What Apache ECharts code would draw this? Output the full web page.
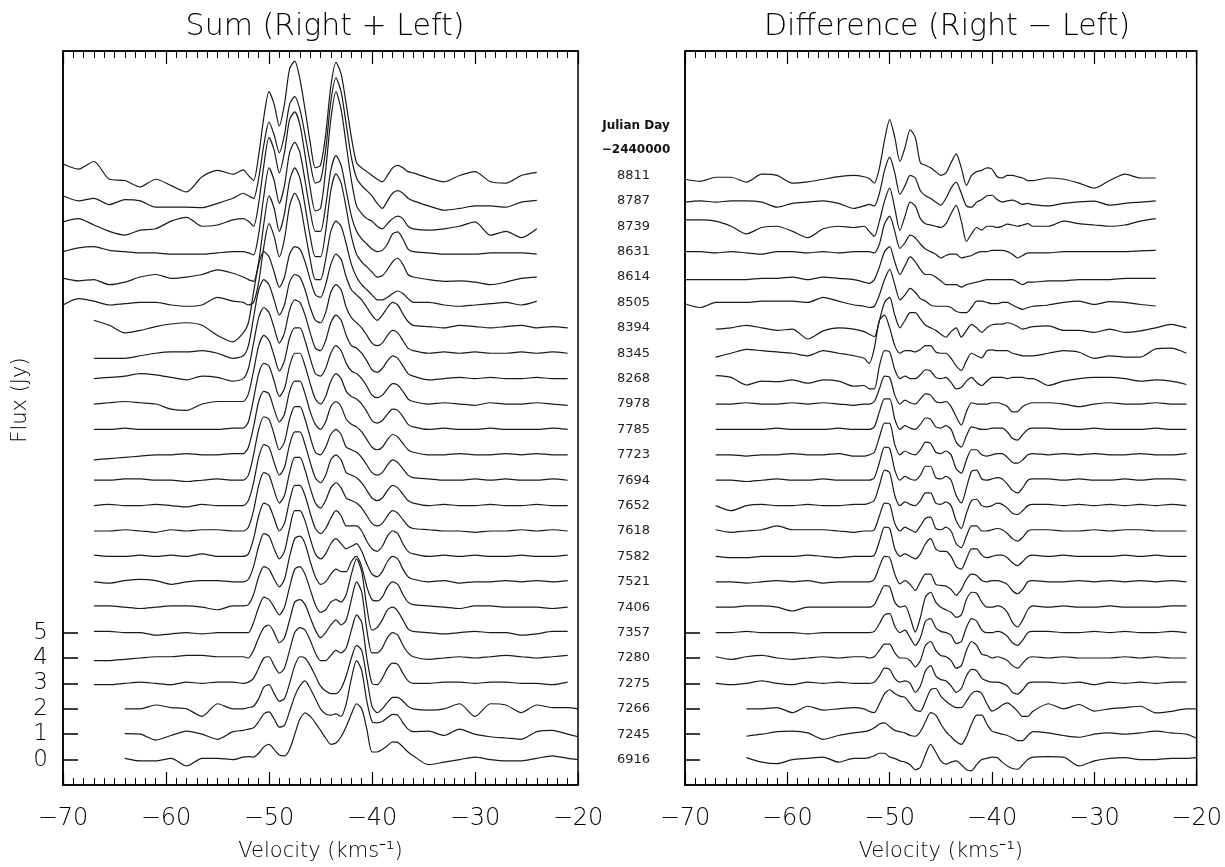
<!DOCTYPE html>
<html>
<head>
<meta charset="utf-8">
<script src="https://cdn.jsdelivr.net/npm/echarts@6/dist/echarts.min.js"></script>
<style>
  html, body { margin: 0; padding: 0; background: #fff; }
  #chart { width: 1225px; height: 867px; }
</style>
</head>
<body>
<div id="chart"></div>
<script>
const _ = null;

// velocity grid (km/s) shared by all spectra
const velocity = [
  -70, -68.5, -67, -65.5, -64, -62.5, -61, -59.5, -58, -56.5, -55, -53.5,
  -52.5, -52, -51.5, -51, -50.5, -50, -49.5, -49, -48.5, -48, -47.5, -47, -46.5, -46, -45.5, -45,
  -44.5, -44, -43.5, -43, -42.5, -42, -41.5, -41, -40.5, -40, -39.5, -39, -38.5, -38, -37.5, -37, -36.5, -36,
  -34.5, -33, -31.5, -30, -28.5, -27, -25.5, -24, -22.5, -21, -20
];

// Julian Day - 2440000, bottom to top
const julianDays = [6916, 7245, 7266, 7275, 7280, 7357, 7406, 7521, 7582, 7618, 7652, 7694,
  7723, 7785, 7978, 8268, 8345, 8394, 8505, 8614, 8631, 8739, 8787, 8811];
// baseline of each spectrum (Jy)
const offsets = [0, 1, 2, 3, 4, 5, 6, 7, 8, 9, 10, 11, 12, 13, 14, 15, 16, 17, 18, 19, 20, 21, 22, 23];
const fluxTicks = [0, 1, 2, 3, 4, 5];

// Sum (Right + Left), flux above baseline, one row per date
const sumSpectra = [
  [_,_,_,_,0.05,-0.05,-0.05,0.05,-0.25,0.05,0.05,0.0,
   0.1,0.12,0.1,0.25,0.5,0.6,0.4,0.18,0.15,0.4,1.0,1.6,1.84,1.7,1.45,1.15,0.85,0.6,0.65,0.9,1.3,1.8,2.2,2.0,1.2,0.3,0.3,0.4,0.55,0.7,0.68,0.5,0.3,0.15,
   -0.2,-0.1,0.0,0.1,0.0,-0.05,-0.05,0.05,0.15,0.05,0.0], // 6916
  [_,_,_,_,0.02,0.0,-0.23,-0.05,0.12,0.0,-0.2,0.1,
   0.15,0.2,0.25,0.5,0.8,0.88,0.6,0.28,0.35,0.9,1.5,1.9,2.1,1.8,1.4,1.0,0.8,0.75,0.8,0.7,1.2,2.2,2.9,2.5,1.3,0.5,0.45,0.5,0.65,0.78,0.75,0.45,0.2,0.1,
   0.12,-0.05,0.2,0.0,-0.1,-0.15,-0.2,0.1,0.15,0.0,-0.1], // 7245
  [_,_,_,_,0.0,0.0,0.15,0.05,0.0,-0.3,0.2,0.0,
   0.0,0.05,0.1,0.4,0.85,0.95,0.6,0.3,0.4,1.0,1.7,2.05,2.0,1.7,1.3,0.9,0.7,0.6,0.6,0.8,1.3,2.0,2.5,2.3,1.2,0.1,-0.15,0.0,0.25,0.45,0.45,0.3,0.1,0.0,
   -0.05,0.0,0.2,-0.3,0.2,0.15,-0.15,0.15,0.05,0.05,0.0], // 7266
  [_,_,-0.05,-0.05,0.0,0.05,0.0,-0.05,0.05,0.0,0.05,0.05,
   0.0,0.05,0.2,0.6,1.0,1.05,0.7,0.4,0.6,1.3,2.0,2.2,2.1,1.7,1.2,0.9,0.9,1.1,1.3,1.2,1.4,2.1,2.7,2.4,1.0,0.0,-0.05,0.2,0.6,0.8,0.75,0.4,0.1,0.0,
   0.0,0.05,0.05,0.0,0.05,0.05,0.0,0.0,-0.05,0.05,_], // 7275
  [_,_,-0.1,-0.1,-0.05,0.0,0.05,0.05,0.1,0.1,0.05,0.05,
   0.05,0.0,0.3,0.8,1.2,1.3,1.0,0.6,0.8,1.5,2.2,2.3,2.1,1.6,1.1,0.8,1.0,1.3,1.5,1.3,1.5,2.3,3.0,2.6,1.1,0.2,0.2,0.4,0.8,1.0,0.9,0.5,0.2,0.05,
   -0.05,0.0,0.05,0.0,0.05,0.1,0.05,0.0,0.05,0.1,_], // 7280
  [_,_,0.05,0.05,0.0,0.0,-0.1,-0.05,0.0,-0.05,0.0,0.0,
   0.0,0.0,0.4,1.0,1.4,1.3,1.0,0.7,1.0,1.8,2.5,2.6,2.3,1.7,1.1,0.8,0.9,1.2,1.3,1.2,1.5,2.3,2.9,2.4,1.0,0.1,0.2,0.5,0.9,1.0,0.85,0.5,0.15,0.05,
   0.0,-0.05,0.0,0.05,0.0,0.0,-0.1,-0.05,0.05,0.05,_], // 7357
  [_,_,0.05,0.05,0.0,-0.05,0.0,0.05,0.05,0.0,-0.1,0.05,
   0.05,0.1,0.5,1.2,1.6,1.5,1.1,0.8,1.1,2.0,2.7,2.8,2.5,1.8,1.2,0.9,1.0,1.3,1.5,1.4,1.4,1.8,2.0,1.6,0.8,0.3,0.25,0.4,0.8,1.0,0.9,0.5,0.2,0.1,
   0.05,0.0,-0.05,0.05,0.05,0.0,0.0,0.0,-0.05,0.0,_], // 7406
  [_,_,0.0,-0.05,0.05,0.1,0.05,-0.1,0.0,0.05,0.05,0.0,
   0.0,0.1,0.6,1.4,1.9,1.8,1.3,0.9,1.2,2.1,2.8,2.8,2.4,1.7,1.1,0.9,1.1,1.5,1.7,1.5,1.3,1.4,1.5,1.2,0.7,0.3,0.2,0.4,0.8,1.0,0.9,0.5,0.2,0.1,
   0.0,0.05,-0.05,0.0,0.0,0.05,0.0,0.05,0.0,0.05,_], // 7521
  [_,_,0.05,0.0,0.0,0.05,0.0,0.05,0.0,0.1,0.0,0.0,
   0.0,0.1,0.7,1.6,2.1,2.0,1.5,1.0,1.3,2.2,2.8,2.8,2.4,1.7,1.1,0.9,1.1,1.5,1.8,1.6,1.2,1.2,1.2,1.0,0.6,0.3,0.2,0.4,0.8,1.0,0.9,0.5,0.2,0.1,
   0.0,0.05,0.0,0.05,0.0,0.0,0.05,0.0,0.0,0.05,_], // 7582
  [_,_,0.0,0.0,0.05,0.0,-0.05,0.05,0.0,0.05,0.05,0.0,
   0.0,0.15,0.8,1.8,2.3,2.2,1.6,1.1,1.4,2.3,2.9,2.9,2.4,1.7,1.1,0.9,1.2,1.7,1.9,1.7,1.3,1.2,1.1,0.9,0.6,0.3,0.2,0.3,0.6,0.8,0.7,0.45,0.2,0.1,
   0.05,0.0,0.0,-0.05,0.0,0.0,0.05,0.0,0.05,0.0,_], // 7618
  [_,_,0.0,0.05,0.0,0.0,0.05,0.0,-0.05,0.05,0.0,0.0,
   0.0,0.2,0.9,1.9,2.4,2.3,1.7,1.2,1.5,2.4,2.9,2.9,2.4,1.7,1.1,0.9,1.2,1.8,2.0,1.8,1.3,1.2,1.1,0.9,0.6,0.3,0.2,0.3,0.6,0.8,0.7,0.45,0.2,0.1,
   0.0,0.05,0.0,0.0,0.05,0.0,0.0,0.05,0.0,0.0,_], // 7652
  [_,_,0.0,0.0,0.05,0.05,0.0,0.0,-0.05,0.0,0.05,0.0,
   0.0,0.2,1.0,2.0,2.5,2.4,1.8,1.2,1.5,2.4,2.9,2.9,2.4,1.7,1.1,1.0,1.3,1.8,2.0,1.8,1.3,1.2,1.1,0.9,0.6,0.3,0.2,0.3,0.6,0.8,0.7,0.45,0.2,0.1,
   0.05,0.0,0.0,0.05,0.0,0.05,0.0,0.0,0.05,0.0,_], // 7694
  [_,_,-0.2,-0.15,-0.1,-0.05,0.0,0.0,0.05,0.0,0.0,0.05,
   0.05,0.3,1.1,2.1,2.5,2.4,1.8,1.3,1.6,2.5,2.9,2.9,2.4,1.7,1.2,1.0,1.3,1.9,2.1,1.9,1.4,1.2,1.1,0.9,0.6,0.3,0.2,0.3,0.6,0.8,0.7,0.45,0.2,0.1,
   0.0,0.0,0.05,0.0,0.0,0.05,0.0,0.05,0.0,0.0,_], // 7723
  [_,_,0.0,0.0,0.05,0.0,0.0,0.0,0.0,0.0,0.0,0.05,
   0.05,0.3,1.2,2.2,2.6,2.5,1.9,1.3,1.6,2.5,3.0,3.0,2.5,1.8,1.2,1.0,1.3,1.9,2.2,2.0,1.5,1.3,1.2,1.0,0.7,0.35,0.25,0.35,0.6,0.8,0.75,0.5,0.2,0.1,
   0.0,0.05,0.0,0.0,0.05,0.0,0.0,0.0,0.05,0.0,_], // 7785
  [_,_,0.0,0.05,0.1,0.05,0.0,-0.2,-0.25,0.0,0.1,0.1,
   0.1,0.4,1.3,2.3,2.7,2.5,1.9,1.3,1.7,2.6,3.0,3.0,2.5,1.8,1.2,1.1,1.4,2.0,2.3,2.1,1.6,1.3,1.2,1.0,0.7,0.35,0.25,0.35,0.6,0.8,0.75,0.5,0.2,0.1,
   0.0,0.05,0.0,-0.05,0.05,0.0,0.0,0.05,0.0,-0.05,_], // 7978
  [_,_,0.0,0.05,0.1,0.2,0.15,0.05,-0.05,0.1,0.05,-0.1,
   0.0,0.4,1.4,2.4,2.8,2.6,2.0,1.4,1.8,2.7,3.1,3.0,2.5,1.8,1.2,1.1,1.5,2.2,2.5,2.3,1.7,1.3,1.2,1.0,0.7,0.35,0.25,0.4,0.7,0.9,0.8,0.5,0.2,0.1,
   -0.05,0.0,0.05,0.0,0.05,0.0,0.0,0.05,0.0,0.0,_], // 8268
  [_,_,-0.2,-0.2,-0.2,-0.1,0.0,0.05,0.05,0.1,0.0,-0.2,
   -0.1,0.3,1.4,2.5,2.9,2.7,2.1,1.5,1.9,2.8,3.1,3.0,2.5,1.8,1.3,1.2,1.6,2.4,2.7,2.5,1.8,1.4,1.2,1.0,0.7,0.4,0.3,0.4,0.7,0.9,0.8,0.5,0.2,0.1,
   0.0,0.05,0.0,0.05,0.0,0.0,0.05,0.0,0.05,0.0,_], // 8345
  [_,_,0.3,0.1,-0.2,-0.1,0.05,0.15,0.2,0.1,-0.3,-0.55,
   -0.2,0.2,1.4,2.5,3.0,2.8,2.2,1.6,2.0,2.9,3.2,3.1,2.6,1.9,1.3,1.2,1.7,2.5,2.9,2.7,2.0,1.5,1.3,1.1,0.8,0.5,0.3,0.5,0.8,1.0,0.9,0.55,0.25,0.1,
   0.05,0.0,0.1,0.05,0.0,0.05,0.1,0.0,0.05,0.0,_], // 8394
  [-0.1,0.15,0.05,-0.1,-0.05,0.0,0.0,-0.1,-0.15,-0.1,0.2,0.05,
   0.0,-0.1,0.0,0.8,2.2,3.1,2.6,1.8,2.5,3.8,4.3,3.9,2.8,1.7,0.9,0.9,1.7,2.8,3.2,3.0,2.3,1.5,1.0,0.7,0.5,0.3,0.1,0.1,0.2,0.35,0.45,0.35,0.15,0.0,
   0.0,-0.1,-0.15,-0.1,-0.05,0.0,-0.1,0.05,_,_,_], // 8505
  [-0.04,-0.15,-0.1,-0.3,-0.2,0.0,0.1,-0.05,0.0,0.1,0.28,0.15,
   0.0,-0.1,-0.17,0.6,2.1,3.2,2.7,1.8,2.5,3.8,4.3,3.9,2.8,1.6,0.8,0.8,1.8,3.4,4.06,3.7,2.7,1.6,0.9,0.6,0.4,0.2,0.0,0.05,0.3,0.6,0.74,0.5,0.1,0.0,
   -0.1,-0.17,-0.15,-0.2,-0.3,-0.2,-0.05,0.0,_,_,_], // 8614
  [0.0,0.15,0.2,0.05,0.0,-0.05,-0.05,-0.1,-0.1,-0.1,-0.05,0.0,
   0.0,-0.05,-0.13,0.7,2.2,3.3,2.8,1.9,2.6,3.9,4.3,3.9,2.8,1.6,0.8,0.8,1.8,3.2,3.78,3.4,2.4,1.4,0.8,0.5,0.3,0.1,0.0,0.05,0.3,0.7,0.78,0.5,0.1,0.0,
   -0.05,-0.1,-0.1,-0.1,-0.05,-0.05,-0.05,-0.1,_,_,_], // 8631
  [0.17,0.3,0.05,-0.2,-0.35,-0.15,-0.1,0.2,0.35,0.0,0.05,0.25,
   0.3,0.2,0.0,0.9,2.4,3.5,3.0,2.1,2.9,4.2,4.5,4.0,2.8,1.5,0.6,0.7,2.2,4.2,5.3,4.6,3.2,1.8,0.8,0.5,0.3,0.2,0.0,-0.1,0.1,0.3,0.4,0.3,0.0,-0.1,
   -0.15,-0.1,0.0,0.17,-0.35,-0.2,-0.45,-0.1,_,_,_], // 8739
  [0.2,0.0,0.1,-0.15,0.05,0.0,-0.25,-0.25,-0.25,-0.27,-0.1,0.1,
   0.3,0.2,0.1,0.9,2.2,3.1,2.6,1.9,2.6,3.8,4.1,3.6,2.6,1.5,0.7,0.8,2.0,3.9,4.84,4.3,3.0,1.7,0.9,0.6,0.4,0.2,-0.1,-0.3,0.0,0.3,0.4,0.3,0.1,0.0,
   -0.2,-0.37,-0.3,-0.2,-0.2,-0.25,-0.05,0.02,_,_,_], // 8787
  [0.45,0.25,0.55,-0.15,-0.2,-0.45,-0.15,-0.4,-0.65,-0.05,0.2,0.05,
   0.22,0.0,-0.2,0.8,2.3,3.3,2.8,1.95,2.8,4.2,4.5,3.8,2.6,1.3,0.3,0.4,1.6,3.5,4.45,4.0,2.8,1.5,0.5,0.3,0.15,0.0,-0.15,-0.25,0.0,0.3,0.4,0.3,0.15,0.1,
   -0.1,-0.25,0.0,0.15,-0.25,-0.3,0.0,0.12,_,_,_] // 8811
];

// Difference (Right - Left), flux above baseline, one row per date
const diffSpectra = [
  [_,_,_,_,0.08,-0.1,-0.16,0.0,0.05,0.1,-0.1,0.05,
   0.05,0.08,0.15,0.25,0.25,0.1,0.05,-0.05,-0.1,-0.2,-0.4,-0.3,0.2,0.6,0.3,-0.05,-0.18,-0.1,-0.05,-0.2,-0.4,-0.44,-0.2,0.0,0.05,0.1,0.08,-0.1,-0.25,-0.35,-0.38,-0.2,0.0,0.1,
   0.12,0.1,-0.25,-0.05,0.05,0.08,0.0,0.0,0.05,0.05,0.08], // 6916
  [_,_,_,_,-0.08,0.0,0.1,0.12,0.05,-0.2,-0.05,0.05,
   0.1,0.15,0.25,0.4,0.45,0.3,0.15,0.1,0.05,-0.05,-0.08,0.1,0.5,0.85,0.75,0.4,0.1,-0.1,-0.3,-0.4,-0.1,0.4,0.75,0.75,0.4,0.12,0.05,0.0,-0.05,-0.15,-0.25,-0.25,-0.05,0.1,
   0.05,-0.05,-0.12,0.0,0.05,0.0,0.05,0.12,0.05,0.0,-0.17], // 7245
  [_,_,_,_,0.0,0.0,0.05,-0.15,0.1,-0.05,0.0,0.05,
   0.0,-0.1,-0.15,0.2,0.6,0.75,0.6,0.5,0.45,0.2,-0.05,-0.1,0.3,0.75,0.8,0.5,0.3,0.15,0.05,0.05,0.3,0.6,0.7,0.6,0.2,-0.09,0.0,0.15,0.23,0.1,-0.1,-0.3,-0.3,-0.1,
   0.2,0.0,0.17,-0.09,0.0,0.05,0.1,-0.16,-0.1,0.0,0.0], // 7266
  [_,_,0.0,-0.05,0.0,0.1,0.0,-0.05,0.05,0.0,0.05,0.0,
   0.0,0.0,0.05,0.3,0.6,0.55,0.2,0.05,0.1,0.0,-0.35,-0.1,0.5,0.7,0.3,0.15,0.1,-0.1,-0.35,-0.2,0.3,0.55,0.5,0.2,0.1,0.05,0.05,0.0,-0.1,-0.35,-0.42,-0.25,0.0,0.05,
   0.05,0.0,0.05,-0.05,0.05,0.0,0.05,0.0,0.05,0.05,_], // 7275
  [_,_,0.05,-0.05,0.05,0.1,0.0,-0.05,0.0,0.05,0.0,0.05,
   0.05,0.0,0.05,0.3,0.55,0.55,0.2,0.0,0.0,-0.1,-0.35,-0.1,0.5,0.65,0.3,0.1,0.05,-0.1,-0.4,-0.3,0.3,0.65,0.5,0.15,0.1,0.0,0.05,0.0,-0.1,-0.3,-0.4,-0.2,0.0,0.05,
   0.0,0.05,0.0,0.0,0.0,0.05,0.0,0.05,0.0,0.0,_], // 7280
  [_,_,0.0,0.0,0.05,0.0,0.0,0.0,-0.05,0.0,0.0,0.0,
   0.0,0.0,0.05,0.35,0.7,0.75,0.25,0.0,0.1,-0.2,-0.5,-0.2,0.45,0.55,0.2,0.05,0.0,-0.1,-0.43,-0.35,0.2,0.55,0.45,0.1,0.0,0.0,0.05,0.0,-0.15,-0.4,-0.5,-0.3,0.0,0.05,
   0.05,0.0,0.0,0.05,0.0,0.05,0.0,0.0,0.05,0.0,_], // 7357
  [_,_,0.0,0.0,0.05,0.05,0.0,-0.15,0.0,0.0,0.0,0.0,
   0.0,0.0,0.1,0.5,0.85,0.8,0.2,0.0,0.05,-0.4,-0.98,-0.4,0.4,0.59,0.2,0.0,-0.1,-0.2,-0.4,-0.3,0.3,0.59,0.55,0.2,0.0,0.0,0.05,0.0,-0.2,-0.6,-0.78,-0.5,-0.1,0.05,
   0.0,0.05,0.0,0.0,0.05,0.0,0.0,0.0,0.05,0.05,_], // 7406
  [_,_,0.0,0.0,-0.05,0.0,0.05,0.0,0.05,-0.05,0.0,0.0,
   0.0,0.0,0.1,0.6,1.0,0.95,0.3,-0.08,0.05,-0.1,-0.34,0.0,0.3,0.3,-0.1,-0.14,-0.17,-0.3,-0.53,-0.3,0.1,0.3,0.25,0.05,0.0,0.05,0.05,0.0,-0.1,-0.35,-0.47,-0.3,0.0,0.05,
   0.0,0.0,0.05,0.0,0.05,0.0,0.05,0.0,0.05,0.0,_], // 7521
  [_,_,0.0,-0.05,-0.05,0.0,0.0,0.0,0.05,0.0,-0.05,0.0,
   0.0,0.0,0.05,0.6,1.15,1.1,0.3,0.0,0.1,0.0,-0.1,0.1,0.5,0.7,0.3,0.2,0.2,0.0,-0.4,-0.5,-0.1,0.3,0.3,0.05,-0.05,0.0,0.05,0.05,-0.05,-0.25,-0.36,-0.2,0.0,0.05,
   0.0,0.05,0.0,0.0,0.0,0.05,0.0,0.05,0.0,0.0,_], // 7582
  [_,_,0.05,-0.05,0.0,0.05,0.2,0.05,0.05,0.05,0.0,-0.05,
   0.0,0.0,0.05,0.6,1.1,1.05,0.3,0.0,0.15,0.05,-0.05,0.2,0.5,0.55,0.1,0.05,0.15,0.0,-0.5,-0.65,-0.2,0.2,0.2,0.0,0.0,0.05,0.1,0.05,-0.1,-0.3,-0.4,-0.25,0.0,0.05,
   0.05,0.0,0.0,0.05,0.0,0.05,0.05,0.0,0.0,0.0,_], // 7618
  [_,_,0.0,-0.2,0.0,0.05,0.0,0.0,0.05,0.0,0.0,0.05,
   0.05,0.1,0.2,0.8,1.4,1.3,0.4,0.0,0.15,0.05,0.0,0.2,0.5,0.5,0.1,0.05,0.15,0.0,-0.6,-0.9,-0.3,0.2,0.25,0.0,-0.05,0.0,0.1,0.05,-0.1,-0.3,-0.35,-0.2,0.0,0.05,
   0.05,0.0,0.05,0.0,0.05,0.0,0.05,0.0,0.05,0.0,_], // 7652
  [_,_,0.0,0.0,-0.05,0.0,0.05,0.0,0.0,0.05,0.0,0.0,
   0.0,0.0,0.1,0.7,1.3,1.25,0.4,0.0,0.15,0.05,0.0,0.2,0.55,0.55,0.1,0.05,0.15,0.0,-0.6,-0.9,-0.3,0.35,0.4,0.05,0.0,0.05,0.1,0.05,-0.15,-0.4,-0.5,-0.3,0.0,0.05,
   0.05,0.0,0.05,0.0,0.0,0.05,0.0,0.05,0.05,0.0,_], // 7694
  [_,_,0.0,0.0,-0.05,0.0,0.0,0.05,0.0,0.0,0.05,-0.05,
   -0.05,0.0,0.1,0.7,1.25,1.24,0.4,0.0,0.15,0.05,0.0,0.2,0.5,0.45,0.1,0.05,0.15,0.0,-0.55,-0.72,-0.2,0.2,0.2,0.0,-0.05,0.0,0.05,0.05,-0.1,-0.3,-0.33,-0.2,0.0,0.05,
   0.0,0.05,0.0,0.05,0.0,0.0,0.05,0.0,0.0,0.05,_], // 7723
  [_,_,0.0,0.0,0.0,0.0,0.05,0.0,0.0,0.0,0.05,0.0,
   0.0,0.0,0.1,0.7,1.2,1.2,0.4,0.0,0.15,0.05,0.0,0.2,0.45,0.4,0.1,0.05,0.15,0.0,-0.5,-0.7,-0.25,0.1,0.05,0.0,0.0,0.05,0.05,0.05,-0.1,-0.35,-0.42,-0.2,0.0,0.05,
   0.05,0.0,0.0,0.05,0.0,0.0,0.0,0.05,0.0,0.0,_], // 7785
  [_,_,0.0,0.0,0.05,0.0,0.0,0.05,0.0,0.05,0.0,-0.05,
   0.0,0.0,0.1,0.6,1.1,1.05,0.35,0.0,0.15,0.05,0.0,0.2,0.4,0.35,0.1,0.05,0.1,-0.1,-0.5,-0.83,-0.3,0.05,0.0,0.0,0.0,0.05,0.05,0.0,-0.1,-0.31,-0.3,-0.1,0.0,0.05,
   0.05,0.0,-0.1,0.0,0.05,0.0,0.0,0.05,0.0,0.0,_], // 7978
  [_,_,0.12,0.05,-0.25,-0.1,-0.12,-0.05,-0.18,-0.05,-0.1,-0.3,
   -0.27,-0.4,-0.4,0.5,1.1,1.05,0.35,0.0,0.1,0.0,0.0,0.15,0.35,0.3,0.05,0.0,0.05,-0.15,-0.4,-0.35,-0.1,0.05,-0.15,-0.27,-0.1,0.05,0.05,0.05,0.0,0.05,0.05,0.05,0.0,0.0,
   -0.27,-0.1,0.0,0.05,0.05,0.0,-0.1,-0.05,-0.1,-0.23,_], // 8268
  [_,_,-0.15,0.0,0.15,0.1,0.05,0.0,-0.1,0.1,0.0,-0.1,
   -0.2,-0.4,0.2,1.3,1.5,1.0,0.3,0.0,0.1,0.1,0.05,0.15,0.3,0.3,0.05,0.0,0.0,-0.2,-0.5,-0.68,-0.3,0.0,-0.1,-0.18,0.1,0.13,0.1,0.1,0.1,0.0,-0.05,-0.1,-0.1,-0.1,
   0.0,0.1,0.04,-0.2,-0.1,-0.15,-0.15,0.17,0.2,0.0,_], // 8345
  [_,_,-0.05,0.0,0.1,0.0,-0.1,-0.05,-0.44,-0.12,0.0,-0.05,
   -0.15,-0.25,-0.35,0.3,1.0,1.2,0.5,0.0,0.3,0.6,0.6,0.35,0.1,0.0,-0.1,-0.25,-0.37,-0.15,0.0,-0.37,-0.1,0.14,0.0,-0.18,0.0,0.12,0.15,0.15,0.2,0.15,0.05,-0.05,0.0,0.05,
   0.08,-0.1,-0.1,-0.18,-0.05,-0.18,-0.12,0.0,0.14,0.0,_], // 8394
  [-0.05,-0.2,0.0,0.0,0.0,0.05,0.05,0.05,0.0,0.2,0.05,-0.1,
   -0.15,-0.2,-0.15,0.3,0.9,1.3,0.7,0.1,0.3,0.55,0.4,0.15,0.05,-0.1,-0.15,-0.15,-0.15,-0.2,-0.35,-0.4,-0.4,-0.2,0.05,0.05,0.0,-0.05,-0.05,0.0,0.0,-0.1,-0.2,-0.27,-0.2,-0.15,
   -0.1,0.0,0.05,-0.08,0.03,0.0,-0.08,-0.14,_,_,_], // 8505
  [-0.1,-0.1,-0.1,-0.1,-0.1,-0.05,-0.05,0.0,-0.1,0.0,-0.05,-0.1,
   -0.2,-0.25,-0.1,0.4,1.0,1.2,0.6,0.1,0.45,0.8,0.6,0.3,0.1,0.1,0.0,-0.15,-0.3,-0.3,-0.3,-0.4,-0.3,-0.25,-0.2,-0.15,-0.1,-0.1,-0.1,-0.1,-0.1,-0.1,-0.2,-0.3,-0.2,-0.2,
   -0.15,-0.15,-0.1,-0.1,-0.1,-0.05,-0.05,-0.05,_,_,_], // 8614
  [0.0,0.0,-0.05,0.0,-0.05,-0.1,0.0,0.0,-0.05,0.0,-0.05,0.0,
   0.0,0.0,-0.05,0.3,1.1,1.4,0.8,0.13,0.35,0.65,0.55,0.3,0.1,0.0,-0.1,-0.25,-0.15,-0.1,-0.1,-0.25,-0.2,-0.15,-0.05,0.0,0.0,0.05,0.05,0.05,0.0,-0.1,-0.25,-0.15,-0.05,-0.05,
   -0.05,0.0,0.0,0.0,0.0,0.0,0.03,0.05,_,_,_], // 8631
  [0.25,0.25,0.2,0.0,-0.3,-0.05,0.0,-0.2,-0.45,-0.1,0.0,-0.05,
   0.0,-0.2,-0.4,0.2,1.0,1.5,0.7,-0.16,0.4,0.95,0.8,0.3,0.1,0.05,0.0,-0.05,0.1,0.5,0.82,0.2,-0.6,-0.3,-0.05,-0.15,0.0,0.0,-0.05,0.0,0.08,0.05,0.0,0.05,0.1,0.0,
   0.0,0.2,0.1,0.05,0.0,0.05,0.2,0.3,_,_,_], // 8739
  [-0.05,0.0,-0.05,0.0,0.0,-0.05,-0.25,-0.1,-0.05,0.0,-0.1,-0.3,
   -0.2,-0.14,-0.2,0.3,1.2,1.72,1.1,0.25,0.6,1.0,0.9,0.4,0.2,0.1,-0.05,-0.17,0.1,0.5,0.74,0.3,-0.2,-0.25,-0.05,0.05,0.2,0.22,0.05,-0.05,0.0,0.03,-0.05,-0.14,-0.1,-0.15,
   -0.2,-0.1,-0.04,-0.01,-0.17,-0.1,-0.05,0.0,_,_,_], // 8787
  [-0.15,-0.23,-0.07,-0.07,-0.26,0.05,0.0,-0.3,-0.25,-0.15,-0.05,0.0,
   -0.05,-0.12,-0.3,0.3,1.4,2.2,1.5,0.55,1.1,1.8,1.5,0.5,0.4,0.3,0.15,0.0,0.1,0.5,0.85,0.3,-0.39,0.0,0.15,0.2,0.3,0.25,-0.05,-0.1,0.0,0.0,-0.05,-0.1,-0.2,-0.2,
   -0.1,-0.15,-0.3,-0.5,-0.2,0.05,-0.1,-0.1,_,_,_] // 8811
];

const FONT = "'DejaVu Sans', 'Liberation Sans', sans-serif";
const TEXT = '#000';
const INK = '#1a1a1a';

function toSeries(rows, axisIndex) {
  return rows.map((row, i) => ({
    type: 'line',
    xAxisIndex: axisIndex * 2,
    yAxisIndex: axisIndex,
    data: velocity
      .map((v, k) => (row[k] === null ? null : [v, row[k] + offsets[i]]))
      .filter(p => p !== null),
    showSymbol: false,
    smooth: 0.25,
    silent: true,
    lineStyle: { color: INK, width: 1.2 },
    animation: false
  }));
}

function velocityAxis(gridIndex, top) {
  return {
    type: 'value',
    gridIndex: gridIndex,
    position: top ? 'top' : 'bottom',
    min: -70,
    max: -20,
    interval: 10,
    axisLine: { onZero: false, lineStyle: { color: '#000', width: 1.5 } },
    axisTick: { inside: true, length: 13, lineStyle: { color: '#000', width: 1.2 } },
    minorTick: { show: true, splitNumber: 10, length: 7, lineStyle: { color: '#000', width: 1 } },
    splitLine: { show: false },
    axisLabel: {
      show: !top,
      fontFamily: FONT,
      fontWeight: 200,
      fontSize: 24,
      color: TEXT,
      margin: 22,
      formatter: v => (v < 0 ? '\u2212' + Math.abs(v) : String(v))
    },
    name: top ? '' : 'Velocity (kms\u207B\u00B9)',
    nameLocation: 'middle',
    nameGap: 56,
    nameTextStyle: { fontFamily: FONT, fontWeight: 200, fontSize: 21, color: TEXT }
  };
}

function fluxAxis(gridIndex) {
  const right = gridIndex === 1;
  return {
    type: 'value',
    gridIndex: gridIndex,
    min: -1,
    max: 27.9,
    axisLine: { show: true, onZero: false, lineStyle: { color: '#000', width: 1.5 } },
    axisTick: { show: true, inside: true, length: 15, customValues: fluxTicks, lineStyle: { color: '#000', width: 1.5 } },
    splitLine: { show: false },
    axisLabel: right
      ? { customValues: offsets, formatter: v => String(julianDays[v]), fontFamily: FONT, fontWeight: 'normal', fontSize: 13, color: '#222', margin: 35 }
      : { customValues: fluxTicks, fontFamily: FONT, fontWeight: 200, fontSize: 23, color: TEXT, margin: 15 }
  };
}

const chart = echarts.init(document.getElementById('chart'), null, { renderer: 'canvas' });
chart.setOption({
  animation: false,
  backgroundColor: '#fff',
  title: [
    { text: 'Sum (Right + Left)', left: 320, top: 7, textAlign: 'center',
      textStyle: { fontFamily: FONT, fontSize: 30, fontWeight: 200, color: TEXT } },
    { text: 'Difference (Right \u2212 Left)', left: 942, top: 7, textAlign: 'center',
      textStyle: { fontFamily: FONT, fontSize: 30, fontWeight: 200, color: TEXT } },
    { text: 'Julian Day', left: 631, top: 115, textAlign: 'center',
      textStyle: { fontFamily: FONT, fontSize: 12, fontWeight: 'bold', color: '#111' } },
    { text: '\u22122440000', left: 631, top: 139, textAlign: 'center',
      textStyle: { fontFamily: FONT, fontSize: 12, fontWeight: 'bold', color: '#111' } }
  ],
  graphic: [{
    type: 'text', x: 21, y: 400, rotation: Math.PI / 2,
    style: { text: 'Flux (Jy)', font: '200 21px ' + FONT, fill: TEXT, align: 'center', verticalAlign: 'middle' }
  }],
  grid: [
    { left: 63, top: 51, width: 515, height: 740, show: true, borderColor: '#000', borderWidth: 1.5 },
    { left: 685, top: 51, width: 514, height: 740, show: true, borderColor: '#000', borderWidth: 1.5 }
  ],
  xAxis: [velocityAxis(0, false), velocityAxis(0, true), velocityAxis(1, false), velocityAxis(1, true)],
  yAxis: [fluxAxis(0), fluxAxis(1)],
  series: toSeries(sumSpectra, 0).concat(toSeries(diffSpectra, 1))
});
</script>
</body>
</html>
